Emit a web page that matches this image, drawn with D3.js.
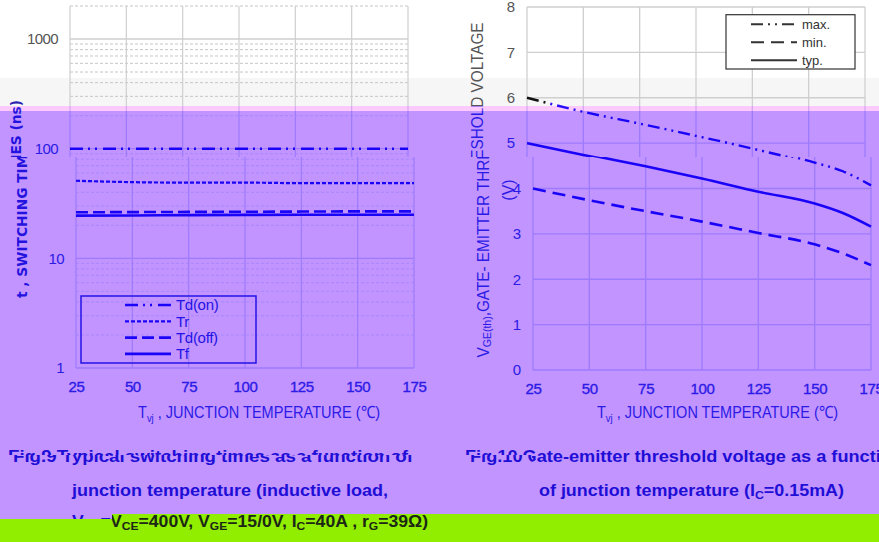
<!DOCTYPE html>
<html>
<head>
<meta charset="utf-8">
<script src="https://cdn.jsdelivr.net/npm/d3@7"></script>
<style>
  html, body { margin: 0; padding: 0; background: #fff; }
  svg { display: block; }
</style>
</head>
<body>
<svg id="chart" width="879" height="542"></svg>
<script>
// ---- Fig. 9: switching times (ns) vs. junction temperature (°C) ----
const swTemps = [25, 50, 75, 100, 125, 150, 175];
const tdOn  = [100, 100, 100, 100, 100, 100, 100];
const tr    = [51, 49.5, 49, 49, 48.5, 48.5, 48.5];
const tdOff = [26.3, 26.4, 26.5, 26.6, 26.7, 26.8, 26.8];
const tf    = [24.5, 24.6, 24.8, 24.9, 25, 25, 25];
const swNames = ["Td(on)", "Tr", "Td(off)", "Tf"];
const swYTicks = [1, 10, 100, 1000];
const tempTicks = [25, 50, 75, 100, 125, 150, 175];

// ---- Fig. 10: gate-emitter threshold voltage (V) vs. junction temperature ----
const vthTemps = [25, 50, 75, 100, 125, 150, 162.5, 175];
const vthMax = [6.0, 5.69, 5.43, 5.16, 4.88, 4.57, 4.38, 4.07];
const vthMin = [4.0, 3.74, 3.5, 3.27, 3.02, 2.77, 2.57, 2.31];
const vthTyp = [5.0, 4.74, 4.49, 4.22, 3.93, 3.67, 3.46, 3.16];
const vthNames = ["max.", "min.", "typ."];
const vthYTicks = [0, 1, 2, 3, 4, 5, 6, 7, 8];

const SANS = '"Liberation Sans", Arial, sans-serif';
const DJV = '"DejaVu Sans", Verdana, sans-serif';

// colour sets for the horizontal bands of the figure
const palettes = {
  top:    { bg: '#ffffff', tick: '#555555', title: '#555555', titleL: '#2a22b0', grid: '#cfcfcf', minor: '#c6c6c6',
            curve: '#111111', legend: '#333333', caption: '#333333' },
  pink:   { bg: '#fccbfc', tick: '#6a48e8', title: '#6a48e8', titleL: '#3a22e0', grid: '#d6a6f6', minor: '#dcb0f6',
            curve: '#2a10fa', legend: '#3a22e0', caption: '#3a22e0' },
  purple: { bg: '#c194ff', tick: '#2c1ae6', title: '#2c1ae6', titleL: '#2412de', grid: '#9e7bfd', minor: '#a987fc',
            curve: '#1a04f8', legend: '#2412e6', caption: '#1e0ed6' },
  green:  { bg: '#91ee00', tick: '#1e2a18', title: '#1e2a18', titleL: '#1e2a18', grid: '#6cb000', minor: '#6cb000',
            curve: '#1e2a18', legend: '#1e2a18', caption: '#1c2816' }
};

const svg = d3.select('#chart');
const defs = svg.append('defs');
function addClip(id, d) { defs.append('clipPath').attr('id', id).append('path').attr('d', d); }
addClip('cTop',  'M0,0H879V106H0Z');
addClip('cPink', 'M0,106H879V111H0Z');
addClip('cPurA', 'M0,111H879V157H0Z');
addClip('cPurB', 'M0,157H879V514H112V519H0Z');
addClip('cGrn',  'M112,514H879V542H0V519H112Z');
// first caption row: the lower slice left of x=532 is offset sideways
addClip('capHi', 'M0,0H879V542H532V455H0Z');
addClip('capLo', 'M0,455H532V542H0Z');

// the "max." curve turns from black to blue near its start
const grad = defs.append('linearGradient').attr('id', 'maxTop')
  .attr('gradientUnits', 'userSpaceOnUse').attr('x1', 527).attr('x2', 566).attr('y1', 0).attr('y2', 0);
grad.append('stop').attr('offset', 0.48).attr('stop-color', '#111111');
grad.append('stop').attr('offset', 0.52).attr('stop-color', '#2a10fa');

function drawSwitching(g, p) {
  const x = d3.scaleLinear().domain([25, 175]).range([70, 408]);
  const y = d3.scaleLog().domain([1, 2000]).range([368, 6]);

  const minors = [];
  [1, 10, 100].forEach(d => { for (let k = 2; k <= 9; k++) minors.push(d * k); });
  minors.push(2000);
  g.append('g').selectAll('line').data(minors).join('line')
    .attr('x1', x(25)).attr('x2', x(175)).attr('y1', d => y(d)).attr('y2', d => y(d))
    .attr('stroke', p.minor).attr('stroke-width', 1).attr('stroke-dasharray', '3,2');
  g.append('g').selectAll('line').data(swYTicks).join('line')
    .attr('x1', x(25)).attr('x2', x(175)).attr('y1', d => y(d)).attr('y2', d => y(d))
    .attr('stroke', p.grid).attr('stroke-width', 1.3);
  g.append('g').selectAll('line').data(tempTicks).join('line')
    .attr('x1', d => x(d)).attr('x2', d => x(d)).attr('y1', y(2000)).attr('y2', y(1))
    .attr('stroke', p.grid).attr('stroke-width', 1.2);

  const ay = g.append('g').attr('transform', `translate(${x(25)},0)`)
    .call(d3.axisLeft(y).tickValues(swYTicks).tickFormat(d3.format('d')).tickSize(0).tickPadding(12));
  ay.select('.domain').remove();
  ay.attr('font-family', SANS).attr('font-size', 15).attr('letter-spacing', -0.6);
  ay.selectAll('text').attr('fill', p.tick);

  const ax = g.append('g').attr('transform', `translate(0,${y(1)})`)
    .call(d3.axisBottom(x).tickValues(tempTicks).tickSize(0).tickPadding(13));
  ax.select('.domain').remove();
  ax.attr('font-family', SANS).attr('font-size', 15).attr('letter-spacing', -0.4);
  ax.selectAll('text').attr('fill', p.tick).attr('stroke', p.tick).attr('stroke-width', 0.35);

  const series = [
    { v: tdOn,  dash: '13,5,2,5,2,6', w: 2.6 },
    { v: tr,    dash: '4,2',          w: 2.2 },
    { v: tdOff, dash: '12,5',         w: 2.6 },
    { v: tf,    dash: null,           w: 2.6 }
  ];
  const line = d3.line().x((d, i) => x(swTemps[i])).y(d => y(d)).curve(d3.curveMonotoneX);
  series.forEach(s => {
    g.append('path').attr('d', line(s.v)).attr('fill', 'none')
      .attr('stroke', p.curve).attr('stroke-width', s.w).attr('stroke-dasharray', s.dash);
  });

  // legend
  const lx = x(25) + 5, ly = 296;
  const lg = g.append('g');
  lg.append('rect').attr('x', lx).attr('y', ly).attr('width', 175).attr('height', 67)
    .attr('fill', 'none').attr('stroke', p.legend).attr('stroke-width', 1.5);
  swNames.forEach((n, i) => {
    const yy = ly + 9 + i * 16.3;
    lg.append('line').attr('x1', lx + 44).attr('x2', lx + 90).attr('y1', yy).attr('y2', yy)
      .attr('stroke', p.curve).attr('stroke-width', series[i].w).attr('stroke-dasharray', series[i].dash);
    lg.append('text').attr('x', lx + 95).attr('y', yy).attr('dy', '0.35em')
      .attr('font-family', SANS).attr('font-size', 15).attr('letter-spacing', -0.3)
      .attr('fill', p.legend).text(n);
  });

  // axis titles
  g.append('text').attr('transform', 'translate(16,199) rotate(-90)')
    .attr('text-anchor', 'middle').attr('dominant-baseline', 'central')
    .attr('font-family', DJV).attr('font-weight', 'bold').attr('font-size', 14)
    .attr('textLength', 198).attr('lengthAdjust', 'spacingAndGlyphs')
    .attr('fill', p.titleL).text('t , SWITCHING TIMES (ns)');
  const xt = g.append('text').attr('x', 132).attr('y', 418)
    .attr('font-family', SANS).attr('font-size', 17)
    .attr('textLength', 242).attr('lengthAdjust', 'spacingAndGlyphs').attr('fill', p.title);
  xt.append('tspan').text('T');
  xt.append('tspan').attr('font-size', 11).attr('dy', 4).text('vj');
  xt.append('tspan').attr('dy', -4).text(' , JUNCTION TEMPERATURE (\u2103)');
}

function drawThreshold(g, p, layer) {
  const x = d3.scaleLinear().domain([25, 175]).range([527, 865]);
  const y = d3.scaleLinear().domain([0, 8]).range([370, 7]);

  g.append('g').selectAll('line').data(vthYTicks).join('line')
    .attr('x1', x(25)).attr('x2', x(175)).attr('y1', d => y(d)).attr('y2', d => y(d))
    .attr('stroke', p.grid).attr('stroke-width', 1.3);
  g.append('g').selectAll('line').data(tempTicks).join('line')
    .attr('x1', d => x(d)).attr('x2', d => x(d)).attr('y1', y(8)).attr('y2', y(0))
    .attr('stroke', p.grid).attr('stroke-width', 1.3);

  const ay = g.append('g').attr('transform', `translate(${x(25)},0)`)
    .call(d3.axisLeft(y).tickValues(vthYTicks).tickFormat(d3.format('d')).tickSize(0).tickPadding(12));
  ay.select('.domain').remove();
  ay.attr('font-family', SANS).attr('font-size', 15);
  ay.selectAll('text').attr('fill', p.tick);

  const ax = g.append('g').attr('transform', `translate(0,${y(0)})`)
    .call(d3.axisBottom(x).tickValues(tempTicks).tickSize(0).tickPadding(13));
  ax.select('.domain').remove();
  ax.attr('font-family', SANS).attr('font-size', 15).attr('letter-spacing', -0.3);
  ax.selectAll('text').attr('fill', p.tick).attr('stroke', p.tick).attr('stroke-width', 0.35);

  const series = [
    { v: vthMax, dash: '12,5,2,5,2,5', w: 2.4 },
    { v: vthMin, dash: '13,7',         w: 2.6 },
    { v: vthTyp, dash: null,           w: 2.6 }
  ];
  const line = d3.line().x((d, i) => x(vthTemps[i])).y(d => y(d)).curve(d3.curveMonotoneX);
  series.forEach((s, i) => {
    const stroke = (layer === 'top' && i === 0) ? 'url(#maxTop)' : p.curve;
    g.append('path').attr('d', line(s.v)).attr('fill', 'none')
      .attr('stroke', stroke).attr('stroke-width', s.w).attr('stroke-dasharray', s.dash);
  });

  // legend
  const lx = x(175) - 139, ly = 14.7;
  const lg = g.append('g');
  lg.append('rect').attr('x', lx).attr('y', ly).attr('width', 129).attr('height', 54.3)
    .attr('fill', p.bg).attr('stroke', p.legend).attr('stroke-width', 1.2);
  vthNames.forEach((n, i) => {
    const yy = ly + 9.5 + i * 18;
    lg.append('line').attr('x1', lx + 25).attr('x2', lx + 71).attr('y1', yy).attr('y2', yy)
      .attr('stroke', p.legend).attr('stroke-width', 2).attr('stroke-dasharray', series[i].dash);
    lg.append('text').attr('x', lx + 76).attr('y', yy).attr('dy', '0.35em')
      .attr('font-family', SANS).attr('font-size', 13).attr('fill', p.legend).text(n);
  });

  // axis titles
  const yt = g.append('text').attr('transform', 'translate(477,190) rotate(-90)')
    .attr('text-anchor', 'middle').attr('dominant-baseline', 'central')
    .attr('font-family', SANS).attr('font-size', 16)
    .attr('textLength', 335).attr('lengthAdjust', 'spacingAndGlyphs').attr('fill', p.title);
  yt.append('tspan').text('V');
  yt.append('tspan').attr('font-size', 11).attr('dy', 4).text('GE(th)');
  yt.append('tspan').attr('dy', -4).text(',GATE- EMITTER THRESHOLD VOLTAGE');
  g.append('text').attr('transform', 'translate(502,190) rotate(-90)')
    .attr('text-anchor', 'middle').attr('dominant-baseline', 'central')
    .attr('font-family', SANS).attr('font-size', 16).attr('fill', p.title).text('(V)');

  const xt = g.append('text').attr('x', 591).attr('y', 418)
    .attr('font-family', SANS).attr('font-size', 17)
    .attr('textLength', 241).attr('lengthAdjust', 'spacingAndGlyphs').attr('fill', p.title);
  xt.append('tspan').text('T');
  xt.append('tspan').attr('font-size', 11).attr('dy', 4).text('vj');
  xt.append('tspan').attr('dy', -4).text(' , JUNCTION TEMPERATURE (\u2103)');
}

function captionLine3(parent, x, p) {
  const t = parent.append('text').attr('x', x).attr('y', 527)
    .attr('textLength', 318).attr('lengthAdjust', 'spacingAndGlyphs').attr('fill', p.caption);
  t.append('tspan').text('V');
  t.append('tspan').attr('font-size', 11).attr('dy', 3).text('CE');
  t.append('tspan').attr('dy', -3).text('=400V, V');
  t.append('tspan').attr('font-size', 11).attr('dy', 3).text('GE');
  t.append('tspan').attr('dy', -3).text('=15/0V, I');
  t.append('tspan').attr('font-size', 11).attr('dy', 3).text('C');
  t.append('tspan').attr('dy', -3).text('=40A , r');
  t.append('tspan').attr('font-size', 11).attr('dy', 3).text('G');
  t.append('tspan').attr('dy', -3).text('=39\u03A9)');
}

function drawCaptions(L, p, layer) {
  const cap = L.append('g').attr('font-family', SANS).attr('font-weight', 'bold')
    .attr('font-size', 16).attr('fill', p.caption);

  [['capHi', 0], ['capLo', 5]].forEach(([clipId, off]) => {
    const part = cap.append('g').attr('clip-path', `url(#${clipId})`)
      .append('g').attr('transform', `translate(${off},0)`);
    part.append('text').attr('x', 8).attr('y', 462)
      .attr('textLength', 400).attr('lengthAdjust', 'spacingAndGlyphs')
      .text('Fig.9 Typical switching times as a function of');
    part.append('text').attr('x', 465).attr('y', 462)
      .attr('textLength', 438).attr('lengthAdjust', 'spacingAndGlyphs')
      .text('Fig.10 Gate-emitter threshold voltage as a function');
  });

  cap.append('text').attr('x', 72).attr('y', 496)
    .attr('textLength', 316).attr('lengthAdjust', 'spacingAndGlyphs')
    .text('junction temperature (inductive load,');

  const r2 = cap.append('text').attr('x', 539).attr('y', 496)
    .attr('textLength', 305).attr('lengthAdjust', 'spacingAndGlyphs');
  r2.append('tspan').text('of junction temperature (I');
  r2.append('tspan').attr('font-size', 11).attr('dy', 3).text('C');
  r2.append('tspan').attr('dy', -3).text('=0.15mA)');

  captionLine3(cap, layer === 'green' ? 110 : 72, p);
}

const layers = [
  { clip: 'cTop',  pal: palettes.top,    dx: 0, name: 'top' },
  { clip: 'cPink', pal: palettes.pink,   dx: 0, name: 'pink' },
  { clip: 'cPurA', pal: palettes.purple, dx: 0, name: 'purple' },
  { clip: 'cPurB', pal: palettes.purple, dx: 6, name: 'purple' },
  { clip: 'cGrn',  pal: palettes.green,  dx: 6, name: 'green' }
];

layers.forEach(l => {
  const L = svg.append('g').attr('clip-path', `url(#${l.clip})`);
  L.append('rect').attr('width', 879).attr('height', 542).attr('fill', l.pal.bg);
  if (l.name === 'top') {
    L.append('rect').attr('x', 0).attr('y', 78).attr('width', 879).attr('height', 28).attr('fill', '#f6f6f6');
  }
  const g = L.append('g').attr('transform', `translate(${l.dx},0)`);
  drawSwitching(g, l.pal);
  drawThreshold(g, l.pal, l.name);
  drawCaptions(L, l.pal, l.name);
});
</script>
</body>
</html>
